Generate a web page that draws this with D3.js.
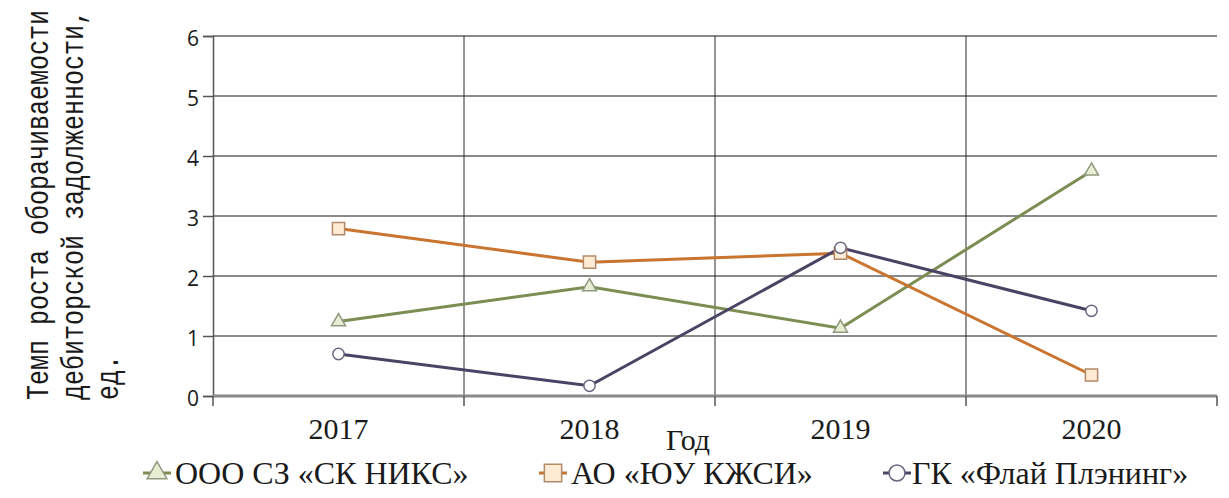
<!DOCTYPE html>
<html>
<head>
<meta charset="utf-8">
<script src="https://cdn.jsdelivr.net/npm/d3@7"></script>
<style>
  body { margin: 0; background: #fff; }
  text { font-family: "Liberation Serif", "Times New Roman", serif; fill: #1a1a1a; }
  .ytitle { font-family: "Liberation Mono", "Courier New", monospace; }
</style>
</head>
<body>
<div class="canvas"></div>
<script>
var years = ["2017", "2018", "2019", "2020"];
var yTicks = [0, 1, 2, 3, 4, 5, 6];
var niks = [1.24, 1.82, 1.13, 3.75];
var kzhsi = [2.79, 2.23, 2.38, 0.35];
var fly = [0.70, 0.17, 2.47, 1.42];
var seriesNames = ["ООО СЗ «СК НИКС»", "АО «ЮУ КЖСИ»", "ГК «Флай Плэнинг»"];
var yTitle = ["Темп роста оборачиваемости", "дебиторской задолженности,", "ед."];

var W = 1229, H = 498;
var margin = {top: 36, right: 12, bottom: 102, left: 213},
    width = W - margin.left - margin.right,
    height = H - margin.top - margin.bottom;

var series = [
  {name: seriesNames[0], values: niks, line: "#7b8d52", fill: "#e6edd2", stroke: "#8f9a80", shape: d3.symbolTriangle},
  {name: seriesNames[1], values: kzhsi, line: "#c9742f", fill: "#fdebd3", stroke: "#b28a6a", shape: d3.symbolSquare},
  {name: seriesNames[2], values: fly, line: "#4a4363", fill: "#ffffff", stroke: "#6b6680", shape: d3.symbolCircle}
];
var markSize = {triangle: 85, square: 150, circle: 100};
function sizeOf(shape, k) {
  var s = shape === d3.symbolTriangle ? markSize.triangle : shape === d3.symbolSquare ? markSize.square : markSize.circle;
  return s * k;
}

var svg = d3.select(".canvas").append("svg")
    .attr("width", W)
    .attr("height", H);
var g = svg.append("g")
    .attr("transform", "translate(" + margin.left + "," + margin.top + ")");

var x = d3.scaleBand().domain(years).range([0, width]);
var y = d3.scaleLinear().domain([0, 6]).range([height, 0]);

// horizontal grid
g.selectAll(".hgrid").data(yTicks.filter(function(d) { return d > 0; }))
  .enter().append("line")
    .attr("class", "hgrid")
    .attr("x1", 0).attr("x2", width)
    .attr("y1", function(d) { return y(d); })
    .attr("y2", function(d) { return y(d); })
    .style("stroke", "#8a8a8a")
    .style("stroke-width", 2);

// vertical grid at category boundaries
g.selectAll(".vgrid").data(years.slice(1))
  .enter().append("line")
    .attr("class", "vgrid")
    .attr("x1", function(d) { return x(d); })
    .attr("x2", function(d) { return x(d); })
    .attr("y1", 0).attr("y2", height)
    .style("stroke", "#2a2a2a")
    .style("stroke-width", 1);

// y axis
var yAxis = g.append("g")
    .call(d3.axisLeft(y).tickValues(yTicks).tickSize(10).tickPadding(4).tickFormat(d3.format("d")));
yAxis.select(".domain").style("stroke", "#555").style("stroke-width", 1.5);
yAxis.selectAll(".tick line").style("stroke", "#555").style("stroke-width", 1.5);
yAxis.selectAll("text")
    .attr("dy", "0.45em")
    .style("font-size", "21px")
    .style("font-family", "'Open Sans', 'Liberation Sans', sans-serif")
    .style("fill", "#1a1a1a");

// x axis
var xAxis = g.append("g")
    .attr("transform", "translate(0," + height + ")")
    .call(d3.axisBottom(x).tickSize(0));
xAxis.select(".domain").remove();
xAxis.selectAll("text")
    .attr("y", 43).attr("dy", 0)
    .style("font-size", "30px")
    .style("font-family", "'Liberation Serif', serif")
    .style("fill", "#1a1a1a");
g.append("line")
    .attr("x1", 0).attr("x2", width)
    .attr("y1", height).attr("y2", height)
    .style("stroke", "#8a8a8a").style("stroke-width", 3);
g.selectAll(".xtick").data(years.concat(["end"]))
  .enter().append("line")
    .attr("class", "xtick")
    .attr("x1", function(d, i) { return i * x.bandwidth(); })
    .attr("x2", function(d, i) { return i * x.bandwidth(); })
    .attr("y1", height).attr("y2", height + 10)
    .style("stroke", "#555").style("stroke-width", 1.5);

// x title
g.append("text")
    .attr("x", width / 2 - 27)
    .attr("y", height + 54)
    .attr("text-anchor", "middle")
    .style("font-size", "30px")
    .text("Год");

// y title
var yt = svg.append("text")
    .attr("class", "ytitle")
    .attr("transform", "translate(0,400) rotate(-90) scale(1,1.28)")
    .style("font-size", "25px");
yt.selectAll("tspan").data(yTitle)
  .enter().append("tspan")
    .attr("x", 0)
    .attr("y", function(d, i) { return 37.5 + i * 27.3; })
    .text(function(d) { return d; });

// lines
var line = d3.line()
    .x(function(d, i) { return x(years[i]) + x.bandwidth() / 2; })
    .y(function(d) { return y(d); });

series.forEach(function(s) {
  g.append("path")
    .datum(s.values)
    .attr("d", line)
    .style("fill", "none")
    .style("stroke", s.line)
    .style("stroke-width", 3);
});

series.forEach(function(s) {
  g.selectAll(null).data(s.values)
    .enter().append("path")
      .attr("transform", function(d, i) { return "translate(" + (x(years[i]) + x.bandwidth() / 2) + "," + y(d) + ")"; })
      .attr("d", d3.symbol().type(s.shape).size(sizeOf(s.shape, 1)))
      .style("fill", s.fill)
      .style("stroke", s.stroke)
      .style("stroke-width", 1.5);
});

// legend
var legendX = [157, 553, 897];
var legend = svg.selectAll(".legend").data(series)
  .enter().append("g")
    .attr("class", "legend")
    .attr("transform", function(d, i) { return "translate(" + legendX[i] + ",473)"; });
legend.append("line")
    .attr("x1", -14).attr("x2", 14)
    .style("stroke", function(d) { return d.line; })
    .style("stroke-width", 3);
legend.append("path")
    .attr("d", function(d) { return d3.symbol().type(d.shape).size(sizeOf(d.shape, 2))(); })
    .style("fill", function(d) { return d.fill; })
    .style("stroke", function(d) { return d.stroke; })
    .style("stroke-width", 1.5);
legend.append("text")
    .attr("x", function(d, i) { return i === 2 ? 15 : 18; })
    .attr("y", 11)
    .style("font-size", "32px")
    .text(function(d) { return d.name; });
</script>
</body>
</html>
